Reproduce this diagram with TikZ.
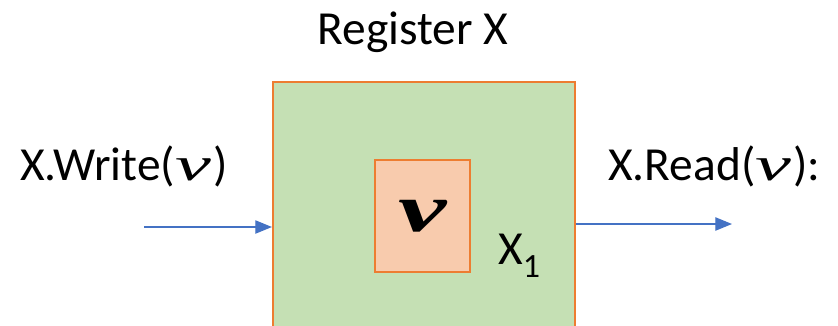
\documentclass[tikz,border=0pt]{standalone}
\usepackage{graphicx}
\usepackage{fontspec}
\setmainfont{Carlito}
\newfontfamily\vfont{Liberation Serif}
\usetikzlibrary{positioning, arrows.meta}
\definecolor{regfill}{HTML}{C5E0B4}
\definecolor{regline}{HTML}{ED7D31}
\definecolor{valfill}{HTML}{F8CBAD}
\definecolor{opblue}{HTML}{4472C4}
\newcommand{\val}{\scalebox{1.7}[1]{\vfont\itshape v}\kern0.05em}
\tikzset{
  register/.style = {rectangle, draw=regline, line width=1.8pt, fill=regfill,
                     minimum width=9.06cm, minimum height=8.64cm, inner sep=0pt},
  valbox/.style   = {rectangle, draw=regline, line width=2.4pt, fill=valfill,
                     minimum width=2.85cm, minimum height=3.36cm, inner sep=0pt},
  lab/.style      = {font=\fontsize{40.5}{46}\selectfont, inner sep=0pt},
  op/.style       = {line width=1.1pt, draw=opblue, -{Triangle[length=5mm, width=4mm]}},
}
\begin{document}
\begin{tikzpicture}[x=0.03cm, y=-0.03cm]
\useasboundingbox (0,0) rectangle (838,325);
\clip (0,0) rectangle (838,325);

% register and its stored value
\node (reg) [register] at (424,226) {};
\node (val) [valbox] at (422.5,216) {\fontsize{58}{58}\selectfont\scalebox{1.6}[1]{\vfont\bfseries\itshape v}};
\node (sub) [lab, anchor=base west] at (498,264) {X\raisebox{-0.28em}{\fontsize{29}{29}\selectfont 1}};

% labels
\node (title) [lab] at (413,32) {Register X};
\node (wr) [lab, anchor=base west] at (20,180) {X.Write(\val)};
\node (rd) [lab, anchor=base west] at (608,180) {X.Read(\val):};

% operations
\coordinate (win) at (144,227);
\coordinate (rout) at (732,224);
\draw [op] (win) -- (win -| reg.west);
\draw [op] (rout -| reg.east) -- (rout);

\end{tikzpicture}
\end{document}
